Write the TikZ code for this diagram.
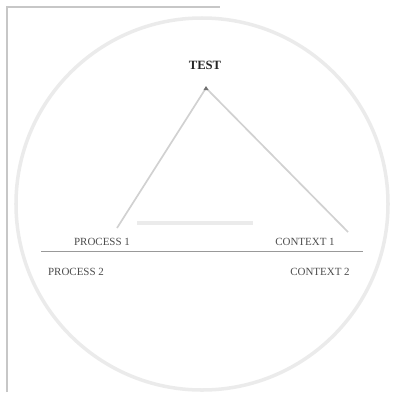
\documentclass[tikz,border=0pt]{standalone}
\usepackage{fontspec}
\setmainfont{Liberation Serif}
\usepackage{tikz}
\usetikzlibrary{positioning,calc}
\usepackage{xcolor}

\begin{document}
\begin{tikzpicture}[x=0.25mm, y=-0.25mm,
  lbl/.style={font=\fontsize{7.8}{9}\selectfont, text=black!70, inner sep=1pt},
  faint/.style={draw=black!8, line width=2.5pt}]
\useasboundingbox (0,0) rectangle (403,392);
% frame
\draw[black!22, line width=0.8pt] (7,392) -- (7,7) -- (220,7);
% circle
\draw[faint] (202,204) circle[radius=186];
% triangle
\coordinate (apex) at (206,88);
\coordinate (baseL) at (117,228);
\coordinate (baseR) at (348,232);
\draw[black!18, line width=1.2pt] (apex) -- (baseL);
\draw[black!18, line width=1.2pt] (apex) -- (baseR);
\draw[faint] (137,223) -- (253,223);
\fill[black!55] (apex) ++(0,-2) -- ++(-2.5,4) -- ++(5,0) -- cycle;
% labels
\node[lbl, font=\fontsize{9}{10}\selectfont\bfseries, text=black!85] (test) at (205,65) {TEST};
\node[lbl] (procA) at (102,242) {PROCESS 1};
\node[lbl] (ctxA) at (305,242) {CONTEXT 1};
\node[lbl] (procB) at (76,272) {PROCESS 2};
\node[lbl] (ctxB) at (320,272) {CONTEXT 2};
% divider
\draw[black!40, line width=0.5pt] (41,251) -- (363,251);
\end{tikzpicture}
\end{document}
